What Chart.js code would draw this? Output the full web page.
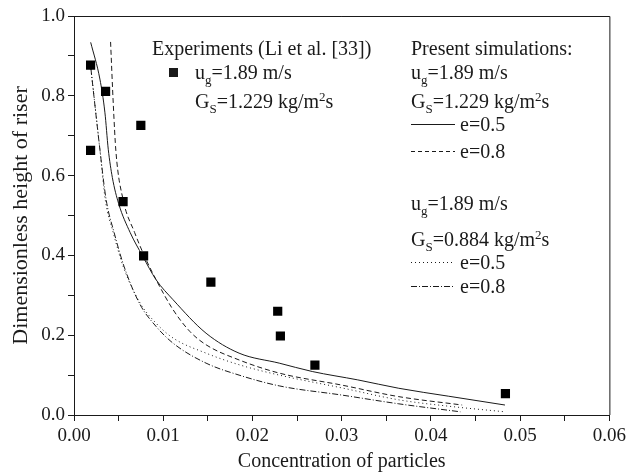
<!DOCTYPE html>
<html>
<head>
<meta charset="utf-8">
<script src="https://cdn.jsdelivr.net/npm/chart.js@4.4.1/dist/chart.umd.min.js"></script>
<style>
  body { margin: 0; background: #fff; }
  #wrap { width: 630px; height: 475px; }
</style>
</head>
<body>
<div id="wrap"><canvas id="riserChart" width="630" height="475"></canvas></div>
<script>
// Experiments (Li et al. [33]), ug=1.89 m/s, Gs=1.229
const expX = [0.00186, 0.00186, 0.00354, 0.00749, 0.0055, 0.0078, 0.01534, 0.02283, 0.02313, 0.0270, 0.04835];
const expY = [0.877, 0.663, 0.811, 0.726, 0.535, 0.399, 0.333, 0.26, 0.198, 0.125, 0.0535];

// Simulations, Gs=1.229, e=0.5 (solid)
const simAx = [0.00187, 0.0029, 0.00346, 0.00384, 0.0043, 0.005, 0.0063, 0.0077, 0.0092, 0.0111, 0.0148, 0.0185, 0.023, 0.0267, 0.0318, 0.0364, 0.042, 0.0483];
const simAy = [0.934, 0.842, 0.759, 0.666, 0.595, 0.53, 0.457, 0.398, 0.339, 0.289, 0.205, 0.155, 0.13, 0.109, 0.088, 0.067, 0.047, 0.025];

// Gs=1.229, e=0.8 (dashed)
const simBx = [0.0041, 0.0044, 0.0047, 0.0055, 0.0068, 0.0079, 0.0092, 0.0111, 0.013, 0.0148, 0.0185, 0.023, 0.030, 0.0364, 0.0435];
const simBy = [0.935, 0.78, 0.66, 0.54, 0.457, 0.398, 0.339, 0.264, 0.209, 0.176, 0.138, 0.105, 0.075, 0.046, 0.025];

// Gs=0.884, e=0.5 (dotted)
const simCx = [0.0019, 0.0029, 0.0035, 0.0044, 0.0055, 0.0074, 0.0092, 0.0111, 0.0148, 0.0185, 0.023, 0.030, 0.0364, 0.042, 0.0483];
const simCy = [0.867, 0.666, 0.54, 0.457, 0.373, 0.281, 0.23, 0.193, 0.155, 0.126, 0.1, 0.068, 0.038, 0.022, 0.008];

// Gs=0.884, e=0.8 (dash-dot)
const simDx = [0.0019, 0.0029, 0.0036, 0.0045, 0.0056, 0.0074, 0.0092, 0.0111, 0.0148, 0.0185, 0.023, 0.030, 0.0364, 0.0433];
const simDy = [0.867, 0.666, 0.54, 0.457, 0.373, 0.277, 0.222, 0.18, 0.13, 0.1, 0.073, 0.05, 0.028, 0.008];

const xTicks = [0, 0.01, 0.02, 0.03, 0.04, 0.05, 0.06];
const yTicks = [0, 0.2, 0.4, 0.6, 0.8, 1.0];

const serif = '"Liberation Serif", "Times New Roman", serif';
const ink = '#1a1a1a';

function pts(xs, ys) {
    return xs.map((x, i) => ({ x: x, y: ys[i] }));
}

function simLine(label, xs, ys, dash) {
    return {
        label: label,
        data: pts(xs, ys),
        showLine: true,
        borderColor: ink,
        borderWidth: 1,
        borderDash: dash,
        pointRadius: 0,
        cubicInterpolationMode: 'monotone',
        fill: false,
    };
}

function isMajor(v, list) {
    return list.some(t => Math.abs(t - v) < 1e-9);
}

// draw text with sub / superscripts: parts = [[text, 'n'|'sub'|'sup'], ...]
function richText(ctx, x, y, parts) {
    let cx = x;
    parts.forEach(p => {
        const small = p[1] !== 'n';
        ctx.font = (small ? '13px ' : '20px ') + serif;
        let dy = 0;
        if (p[1] === 'sub') dy = 5;
        if (p[1] === 'sup') dy = -7;
        ctx.fillText(p[0], cx, y + dy);
        cx += ctx.measureText(p[0]).width;
    });
}

const legendPlugin = {
    id: 'legendPlugin',
    afterDraw(chart) {
        const ctx = chart.ctx;
        const a = chart.chartArea;
        ctx.save();
        // frame on top and right
        ctx.strokeStyle = ink;
        ctx.lineWidth = 1;
        ctx.beginPath();
        ctx.moveTo(a.left, a.top + 0.5);
        ctx.lineTo(a.right + 0.5, a.top + 0.5);
        ctx.lineTo(a.right + 0.5, a.bottom);
        ctx.stroke();

        ctx.fillStyle = ink;
        ctx.textBaseline = 'alphabetic';
        ctx.textAlign = 'left';

        // experiments block
        richText(ctx, 152, 55, [['Experiments (Li et al. [33])', 'n']]);
        ctx.fillRect(169, 68, 9, 9);
        richText(ctx, 195, 79, [['u', 'n'], ['g', 'sub'], ['=1.89 m/s', 'n']]);
        richText(ctx, 195, 108, [['G', 'n'], ['S', 'sub'], ['=1.229 kg/m', 'n'], ['2', 'sup'], ['s', 'n']]);

        // simulations block
        const lx = 411;
        richText(ctx, lx, 55, [['Present simulations:', 'n']]);
        richText(ctx, lx, 79, [['u', 'n'], ['g', 'sub'], ['=1.89 m/s', 'n']]);
        richText(ctx, lx, 108, [['G', 'n'], ['S', 'sub'], ['=1.229 kg/m', 'n'], ['2', 'sup'], ['s', 'n']]);
        richText(ctx, lx, 210, [['u', 'n'], ['g', 'sub'], ['=1.89 m/s', 'n']]);
        richText(ctx, lx, 246, [['G', 'n'], ['S', 'sub'], ['=0.884 kg/m', 'n'], ['2', 'sup'], ['s', 'n']]);

        const samples = [
            [124, [], 'e=0.5'],
            [151, [4, 3], 'e=0.8'],
            [262, [1, 3], 'e=0.5'],
            [286, [6, 2, 1, 2], 'e=0.8'],
        ];
        samples.forEach(s => {
            ctx.setLineDash(s[1]);
            ctx.beginPath();
            ctx.moveTo(lx, s[0] + 0.5);
            ctx.lineTo(lx + 44, s[0] + 0.5);
            ctx.stroke();
            ctx.setLineDash([]);
            richText(ctx, lx + 49, s[0] + 7, [[s[2], 'n']]);
        });
        ctx.restore();
    }
};

const ctx = document.getElementById('riserChart').getContext('2d');
const riserChart = new Chart(ctx, {
    type: 'scatter',
    data: {
        datasets: [
            {
                label: 'Experiments',
                data: pts(expX, expY),
                pointStyle: 'rect',
                pointRadius: 6.5,
                backgroundColor: '#000',
                borderColor: '#000',
                borderWidth: 0,
            },
            simLine('Gs=1.229 e=0.5', simAx, simAy, []),
            simLine('Gs=1.229 e=0.8', simBx, simBy, [5, 3]),
            simLine('Gs=0.884 e=0.5', simCx, simCy, [1, 3]),
            simLine('Gs=0.884 e=0.8', simDx, simDy, [6, 2, 1, 2]),
        ],
    },
    options: {
        responsive: false,
        animation: false,
        layout: { padding: { top: 16, right: 19, left: 0, bottom: 0 } },
        plugins: {
            legend: { display: false },
            tooltip: { enabled: false },
        },
        scales: {
            x: {
                type: 'linear',
                min: 0,
                max: 0.06,
                afterFit: (scale) => { scale.height = 60; },
                afterBuildTicks: (scale) => {
                    const t = [];
                    for (let i = 0; i <= 12; i++) t.push({ value: i * 0.005 });
                    scale.ticks = t;
                },
                ticks: {
                    color: ink,
                    font: { family: serif, size: 19 },
                    padding: 4,
                    maxRotation: 0,
                    autoSkip: false,
                    callback: (v) => isMajor(v, xTicks) ? v.toFixed(2) : '',
                },
                grid: {
                    drawOnChartArea: false,
                    drawTicks: true,
                    tickLength: 6,
                    color: ink,
                },
                border: { display: true, color: ink, width: 1 },
                title: {
                    display: true,
                    text: 'Concentration of particles',
                    color: ink,
                    font: { family: serif, size: 20 },
                    padding: { top: 0, bottom: 1 },
                },
            },
            y: {
                type: 'linear',
                min: 0,
                max: 1.0,
                afterFit: (scale) => { scale.width = 74; },
                afterBuildTicks: (scale) => {
                    const t = [];
                    for (let i = 0; i <= 10; i++) t.push({ value: i * 0.1 });
                    scale.ticks = t;
                },
                ticks: {
                    color: ink,
                    font: { family: serif, size: 19 },
                    padding: 3,
                    autoSkip: false,
                    callback: (v) => isMajor(v, yTicks) ? v.toFixed(1) : '',
                },
                grid: {
                    drawOnChartArea: false,
                    drawTicks: true,
                    tickLength: 6,
                    color: ink,
                },
                border: { display: true, color: ink, width: 1 },
                title: {
                    display: true,
                    text: 'Dimensionless height of riser',
                    color: ink,
                    font: { family: serif, size: 22 },
                    padding: { top: 8, bottom: 0 },
                },
            },
        },
    },
    plugins: [legendPlugin],
});
</script>
</body>
</html>
